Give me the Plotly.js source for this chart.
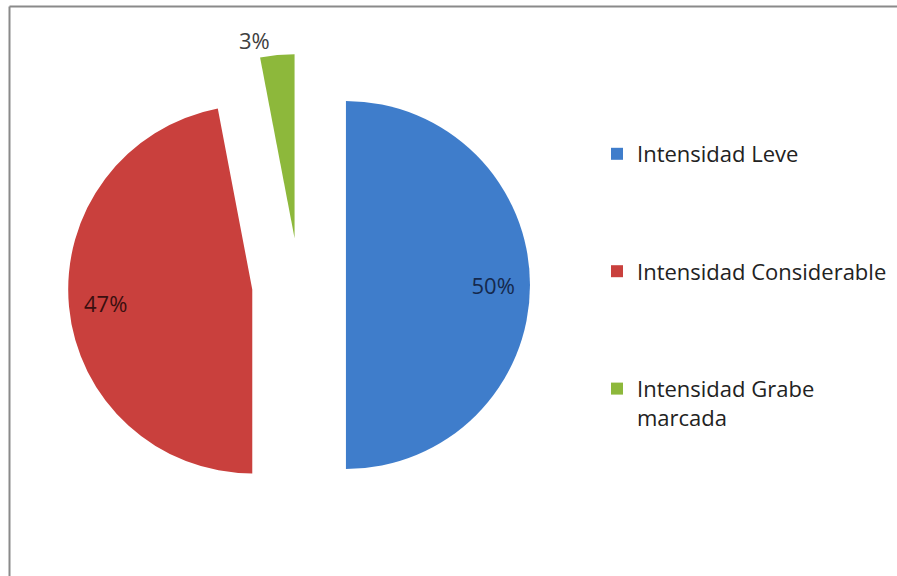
<!DOCTYPE html>
<html>
<head>
<meta charset="utf-8">
<script src="https://cdn.plot.ly/plotly-3.0.1.min.js"></script>
<style>
  html, body { margin: 0; padding: 0; background: #ffffff; }
  #chart { width: 897px; height: 576px; }
</style>
</head>
<body>
<div id="chart"></div>
<script>
// ---- data ----
const categories = ['Intensidad Leve', 'Intensidad Considerable', 'Intensidad Grabe marcada'];
const legendLabels = ['Intensidad Leve', 'Intensidad Considerable', 'Intensidad Grabe<br>marcada'];
const values = [50, 47, 3];
const colors = ['#3F7DCB', '#C9403D', '#8DB83B'];
const labelPositions = ['inside', 'inside', 'outside'];

// legend entries padded with blank lines to mimic the wide spacing
const padLines = 4;
const displayLabels = legendLabels.map(function (l) {
  const used = l.split('<br>').length;
  let s = l;
  for (let i = used; i < padLines; i++) s += '<br> ';
  return s;
});

const FONT = '"Open Sans", sans-serif';
const pullAll = values.map(function () { return 0.255; });
const dom = { x: [68 / 897, 530 / 897], y: [60 / 576, 522 / 576] };
const pctTpl = '%{percent:.0%}';

// main pie: the slices + the outside label of the small slice
const pieMain = {
  type: 'pie',
  labels: displayLabels,
  values: values,
  sort: false,
  direction: 'clockwise',
  rotation: 0,
  pull: pullAll,
  marker: { colors: colors, line: { width: 0 } },
  texttemplate: labelPositions.map(function (p) { return p === 'outside' ? pctTpl : ''; }),
  textposition: labelPositions,
  outsidetextfont: { family: FONT, size: 22, color: '#404040' },
  insidetextfont: { family: FONT, size: 22, color: '#222222' },
  automargin: false,
  hoverinfo: 'label+percent',
  domain: dom
};

// transparent ring overlay carrying the inside labels further out (as in the original)
const pieLabels = {
  type: 'pie',
  labels: displayLabels,
  values: values,
  sort: false,
  direction: 'clockwise',
  rotation: 0,
  pull: pullAll,
  hole: 0.6,
  showlegend: false,
  marker: { colors: values.map(function () { return 'rgba(0,0,0,0)'; }), line: { width: 0 } },
  texttemplate: labelPositions.map(function (p) { return p === 'inside' ? pctTpl : ''; }),
  textposition: 'inside',
  insidetextorientation: 'horizontal',
  insidetextfont: { family: FONT, size: 22, color: ['#15294d', '#3a0f0f', '#333333'] },
  automargin: false,
  hoverinfo: 'skip',
  domain: dom
};

const layout = {
  width: 897,
  height: 576,
  margin: { l: 0, r: 0, t: 0, b: 0, pad: 0 },
  paper_bgcolor: '#ffffff',
  plot_bgcolor: '#ffffff',
  showlegend: true,
  legend: {
    x: 597 / 897,
    y: 1 - 133 / 576,
    xanchor: 'left',
    yanchor: 'top',
    valign: 'top',
    font: { family: FONT, size: 22, color: '#222222' },
    bgcolor: 'rgba(0,0,0,0)'
  },
  shapes: [
    { type: 'line', xref: 'paper', yref: 'paper', x0: 9.5 / 897, x1: 1, y0: 1 - 6.5 / 576, y1: 1 - 6.5 / 576, line: { color: '#8a8a8a', width: 2 } },
    { type: 'line', xref: 'paper', yref: 'paper', x0: 9.5 / 897, x1: 9.5 / 897, y0: 0, y1: 1 - 6.5 / 576, line: { color: '#8a8a8a', width: 2 } }
  ]
};

Plotly.newPlot('chart', [pieMain, pieLabels], layout, { displayModeBar: false, staticPlot: true });
</script>
</body>
</html>
